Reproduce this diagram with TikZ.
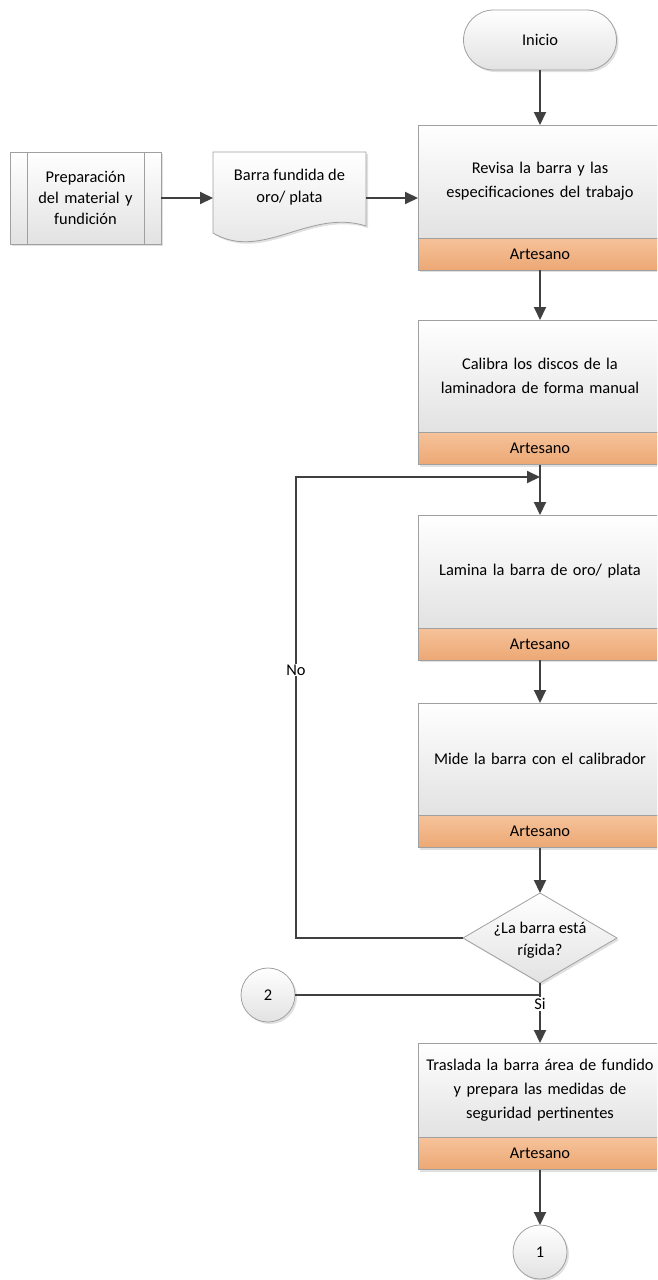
\documentclass[tikz,border=0pt]{standalone}
\usepackage{fontspec}
\setmainfont{Carlito}
\usetikzlibrary{arrows.meta,shapes.geometric,shadows}
\definecolor{LineGray}{HTML}{404040}
\definecolor{EdgeGray}{HTML}{A0A0A0}
\definecolor{FillGray}{HTML}{E2E2E2}
\definecolor{BandTop}{HTML}{F6C29A}
\definecolor{BandBottom}{HTML}{ECA874}
\tikzset{
  softshadow/.style={
    drop shadow={shadow xshift=2pt,shadow yshift=-2pt,fill=black,opacity=0.12}
  },
  procbox/.style={
    draw=EdgeGray,line width=0.8pt,top color=white,bottom color=FillGray,
    minimum width=244pt,minimum height=113pt,text width=240pt,
    font=\fontsize{16.4}{24}\selectfont,
    align=center,inner sep=0pt,outer sep=0pt,softshadow
  },
  actorbox/.style={
    draw=EdgeGray,line width=0.8pt,top color=BandTop,bottom color=BandBottom,
    minimum width=244pt,minimum height=32pt,
    font=\fontsize{16.4}{18}\selectfont,
    inner sep=0pt,outer sep=0pt,softshadow
  },
  termbox/.style={
    draw=EdgeGray,line width=0.8pt,top color=white,bottom color=FillGray,
    rounded corners=30pt,minimum width=153pt,minimum height=60pt,
    font=\fontsize{16.4}{18}\selectfont,inner sep=0pt,outer sep=0pt,softshadow
  },
  subbox/.style={
    draw=EdgeGray,line width=0.8pt,top color=white,bottom color=FillGray,
    minimum width=151pt,minimum height=92pt,text width=125pt,
    font=\fontsize{16.4}{21}\selectfont,
    align=center,inner sep=0pt,outer sep=0pt,softshadow
  },
  docshape/.style={
    draw=EdgeGray,line width=0.8pt,top color=white,bottom color=FillGray,softshadow
  },
  decision/.style={
    diamond,draw=EdgeGray,line width=0.8pt,top color=white,bottom color=FillGray,
    minimum width=154pt,minimum height=90pt,inner sep=0pt,outer sep=0pt,softshadow
  },
  connbox/.style={
    circle,draw=EdgeGray,line width=0.8pt,top color=white,bottom color=FillGray,
    minimum size=54pt,inner sep=0pt,outer sep=0pt,
    font=\fontsize{16.4}{18}\selectfont,softshadow
  },
  plain/.style={font=\fontsize{16.4}{22}\selectfont,align=center,inner sep=1pt},
  flow/.style={draw=LineGray,line width=2pt,-{Triangle[length=13pt,width=12pt]}},
  link/.style={draw=LineGray,line width=2pt},
}

\begin{document}
\begin{tikzpicture}[x=1pt,y=-1pt]
  \useasboundingbox (0,0) rectangle (657,1280);
  \clip (0,0) rectangle (657,1280);

  \node[termbox] (inicio) at (540,40) {Inicio};

  \node[subbox] (prep) at (85.5,198) {Preparación\\del material y\\fundición};
  \draw[EdgeGray,line width=0.8pt] ([xshift=17pt]prep.north west) -- ([xshift=17pt]prep.south west);
  \draw[EdgeGray,line width=0.8pt] ([xshift=-17pt]prep.north east) -- ([xshift=-17pt]prep.south east);

  \draw[docshape] (213,152) -- (366,152) -- (366,226)
    .. controls (310,208) and (262,262) .. (213,233) -- cycle;
  \node[minimum width=153pt,minimum height=92pt,inner sep=0pt,outer sep=0pt] (doc) at (289.5,198) {};
  \node[plain] (doctxt) at (289.5,187) {Barra fundida de\\oro/ plata};

  \node[procbox] (rev) at (540,181.5) {Revisa la barra y las\\especificaciones del trabajo};
  \node[actorbox] (revA) at (540,254) {Artesano};

  \node[procbox,minimum height=112pt] (cal) at (540,376) {Calibra los discos de la\\laminadora de forma manual};
  \node[actorbox] (calA) at (540,448.5) {Artesano};

  \node[procbox] (lam) at (540,571.5) {Lamina la barra de oro/ plata};
  \node[actorbox] (lamA) at (540,644) {Artesano};

  \node[procbox,minimum height=112pt] (mide) at (540,759) {Mide la barra con el calibrador};
  \node[actorbox] (mideA) at (540,831.5) {Artesano};

  \node[decision] (chk) at (540,938) {};
  \node[plain] (chktxt) at (540,940) {¿La barra está\\rígida?};

  \node[connbox] (c2) at (268,995) {2};

  \node[procbox,minimum height=94pt] (tras) at (540,1090) {Traslada la barra área de fundido\\y prepara las medidas de\\seguridad pertinentes};
  \node[actorbox] (trasA) at (540,1153.5) {Artesano};

  \node[connbox] (c1) at (540,1252) {1};

  \coordinate (loopin) at (540,477);
  \coordinate (sijoin) at (540,995);

  \draw[flow] (inicio.south) -- (rev.north);
  \draw[flow] (prep.east) -- (doc.west);
  \draw[flow] (doc.east) -- (rev.west |- doc.east);
  \draw[flow] (revA.south) -- (cal.north);
  \draw[flow] (calA.south) -- (lam.north);
  \draw[flow] (lamA.south) -- (mide.north);
  \draw[flow] (mideA.south) -- (chk.north);
  \draw[flow] (chk.west) -- ++(-167,0) |- (loopin);
  \node[plain,fill=white] (no) at (296,670) {No};
  \draw[flow] (chk.south) -- (tras.north);
  \draw[link] (c2.east) -- (sijoin);
  \node[plain,fill=white] (si) at (540,1004) {Si};
  \draw[flow] (trasA.south) -- (c1.north);
\end{tikzpicture}
\end{document}
